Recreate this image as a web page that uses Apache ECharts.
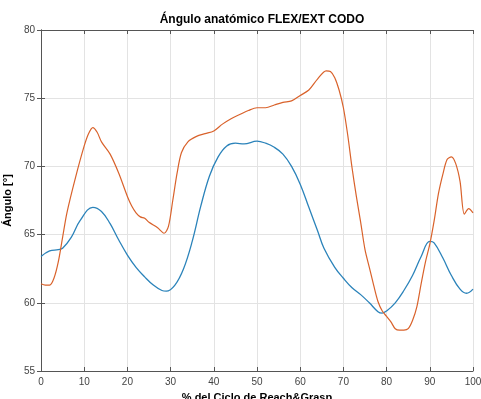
<!DOCTYPE html>
<html>
<head>
<meta charset="utf-8">
<script src="https://cdn.jsdelivr.net/npm/echarts@6/dist/echarts.min.js"></script>
<style>
  html, body { margin: 0; padding: 0; background: #fff; }
  #chart { width: 481px; height: 399px; }
</style>
</head>
<body>
<div id="chart"></div>
<script>
// % del ciclo (x) y ángulo (y)
const blueX = [0, 2, 4, 5, 7, 9, 12, 14, 16, 18, 20, 22, 24, 26, 28, 29, 31, 33, 35, 37, 39, 41, 43, 45, 47, 50, 52, 54, 56, 58, 60, 62, 64, 65.5, 68, 70, 72, 74, 76, 78, 79, 80, 82, 84, 86, 88, 90, 91, 93, 95, 97, 98.5, 100]
const blueY = [63.4, 63.8, 63.9, 64.0, 64.8, 66.0, 67.0, 66.7, 65.8, 64.6, 63.5, 62.6, 61.9, 61.3, 60.9, 60.85, 61.3, 62.5, 64.5, 67.1, 69.3, 70.7, 71.5, 71.7, 71.65, 71.85, 71.7, 71.4, 70.9, 70.0, 68.7, 67.0, 65.3, 64.0, 62.6, 61.8, 61.1, 60.6, 60.0, 59.35, 59.25, 59.4, 60.0, 60.9, 62.0, 63.4, 64.5, 64.4, 63.3, 62.0, 61.0, 60.7, 61.0]

const orangeX = [0, 1, 2, 3, 4, 5, 6, 8, 10, 11, 12, 13, 14, 16, 18, 20, 21, 22, 23, 24, 25, 27, 28, 28.5, 29.5, 30.5, 31.5, 32.5, 34, 36, 38, 40, 42, 44, 46, 48, 50, 52, 54, 56, 58, 60, 62, 64, 66, 67, 68, 69, 70, 71, 72, 73, 74, 75, 76, 77, 78, 79, 80, 81, 82, 83, 84, 85, 86, 87, 88, 89, 90, 91, 92, 93, 94, 95, 96, 97, 98, 99, 100]
const orangeY = [61.4, 61.3, 61.3, 61.8, 63.0, 64.8, 66.6, 69.2, 71.5, 72.4, 72.85, 72.5, 71.8, 70.9, 69.5, 67.8, 67.1, 66.6, 66.3, 66.2, 65.9, 65.5, 65.2, 65.1, 65.6, 67.5, 69.5, 71.0, 71.8, 72.2, 72.4, 72.6, 73.1, 73.5, 73.8, 74.1, 74.3, 74.3, 74.5, 74.7, 74.8, 75.2, 75.6, 76.4, 77.0, 76.95, 76.5, 75.6, 74.3, 72.3, 69.9, 67.8, 65.9, 63.9, 62.6, 61.3, 60.1, 59.4, 59.0, 58.6, 58.1, 58.0, 58.0, 58.1, 58.7, 59.7, 61.4, 63.0, 64.3, 66.0, 68.0, 69.4, 70.5, 70.7, 70.2, 68.9, 66.5, 66.9, 66.6]

const title = 'Ángulo anatómico FLEX/EXT CODO'
const xName = '% del Ciclo de Reach&Grasp'
const yName = 'Ángulo [°]'

const toPairs = (xs, ys) => xs.map((x, i) => [x, ys[i]])

const axisColor = '#555'
const font = 'Liberation Sans, Arial, sans-serif'

const chart = echarts.init(document.getElementById('chart'))

const option = {
  animation: false,
  title: {
    text: title,
    left: 257,
    top: 9,
    textAlign: 'center',
    textStyle: { fontFamily: font, fontSize: 12, fontWeight: 'bold', color: '#000' }
  },
  grid: { left: 41, right: 8, top: 30, bottom: 28, outerBoundsMode: 'none', containLabel: false },
  xAxis: [
    {
      type: 'value', min: 0, max: 100, interval: 10,
      name: xName, nameLocation: 'middle', nameGap: 21,
      nameTextStyle: { fontFamily: font, fontSize: 11, fontWeight: 'bold', color: '#000' },
      axisLine: { show: true, lineStyle: { color: axisColor, width: 1 } },
      axisTick: { show: true, inside: true, length: 4, lineStyle: { color: axisColor } },
      axisLabel: { fontFamily: font, fontSize: 10, color: '#444', margin: 6 },
      splitLine: { show: true, lineStyle: { color: '#e3e3e3', width: 1 } }
    },
    {
      type: 'value', min: 0, max: 100, interval: 10, position: 'top',
      axisLine: { show: true, lineStyle: { color: axisColor, width: 1 } },
      axisTick: { show: true, inside: true, length: 4, lineStyle: { color: axisColor } },
      axisLabel: { show: false },
      splitLine: { show: false }
    }
  ],
  yAxis: [
    {
      type: 'value', min: 55, max: 80, interval: 5,
      name: yName, nameLocation: 'middle', nameGap: 24,
      nameTextStyle: { fontFamily: font, fontSize: 11, fontWeight: 'bold', color: '#000' },
      axisLine: { show: true, lineStyle: { color: axisColor, width: 1 } },
      axisTick: { show: true, inside: true, length: 4, lineStyle: { color: axisColor } },
      axisLabel: { fontFamily: font, fontSize: 10, color: '#444', margin: 6 },
      splitLine: { show: true, lineStyle: { color: '#e3e3e3', width: 1 } }
    },
    {
      type: 'value', min: 55, max: 80, interval: 5, position: 'right',
      axisLine: { show: true, lineStyle: { color: axisColor, width: 1 } },
      axisTick: { show: true, inside: true, length: 4, lineStyle: { color: axisColor } },
      axisLabel: { show: false },
      splitLine: { show: false }
    }
  ],
  series: [
    {
      name: 'azul',
      type: 'line',
      smooth: 0.4,
      showSymbol: false,
      data: toPairs(blueX, blueY),
      lineStyle: { color: '#2b83ba', width: 1.3 },
      itemStyle: { color: '#2b83ba' }
    },
    {
      name: 'naranja',
      type: 'line',
      smooth: 0.3,
      showSymbol: false,
      data: toPairs(orangeX, orangeY),
      lineStyle: { color: '#d9622b', width: 1.2 },
      itemStyle: { color: '#d9622b' }
    }
  ]
}

chart.setOption(option)
</script>
</body>
</html>
